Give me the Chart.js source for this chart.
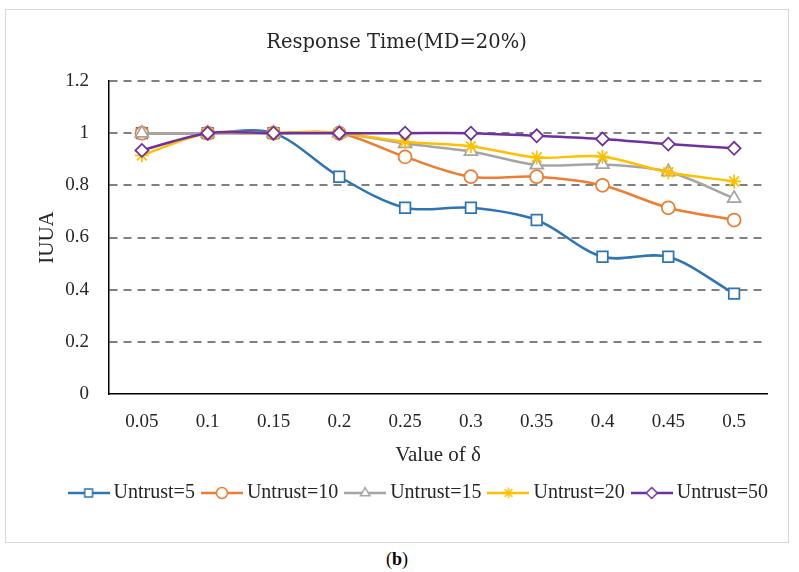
<!DOCTYPE html>
<html>
<head>
<meta charset="utf-8">
<title>Response Time(MD=20%)</title>
<script src="https://cdn.jsdelivr.net/npm/chart.js@4.4.1/dist/chart.umd.min.js"></script>
<style>
    html, body { margin: 0; padding: 0; background: #fff; }
    body { width: 799px; height: 572px; position: relative; overflow: hidden; }
    #frame { position: absolute; left: 5px; top: 9px; width: 784px; height: 534px; box-sizing: border-box; border: 1px solid #d9d9d9; }
    #frame canvas { display: block; }
    #caption { position: absolute; left: 0; top: 549px; width: 794px; text-align: center; font: 18px "Liberation Serif", serif; color: #000; }
</style>
</head>
<body>
<div id="frame"><canvas id="chart" width="782" height="532"></canvas></div>
<div id="caption">(<b>b</b>)</div>
<script>
const deltas = ["0.05", "0.1", "0.15", "0.2", "0.25", "0.3", "0.35", "0.4", "0.45", "0.5"];
const untrust5 = [1, 1, 1, 0.833, 0.714, 0.714, 0.667, 0.526, 0.526, 0.385];
const untrust10 = [1, 1, 1, 1, 0.909, 0.833, 0.833, 0.8, 0.714, 0.667];
const untrust15 = [1, 1, 1, 1, 0.96, 0.93, 0.878, 0.88, 0.852, 0.75];
const untrust20 = [0.915, 1, 1, 1, 0.967, 0.95, 0.907, 0.91, 0.85, 0.815];
const untrust50 = [0.934, 1, 1, 1, 1, 1, 0.99, 0.978, 0.958, 0.942];
const seriesNames = ["Untrust=5", "Untrust=10", "Untrust=15", "Untrust=20", "Untrust=50"];
const yTickLabels = ["0", "0.2", "0.4", "0.6", "0.8", "1", "1.2"];
const Y_STEP = 0.2;

const seriesData = [untrust5, untrust10, untrust15, untrust20, untrust50];
const colors = ["#2E75B6", "#ED7D31", "#A5A5A5", "#FFC000", "#7030A0"];
const markers = ["rect", "circle", "triangle", "star", "rectRot"];
const markerRadius = [7.5, 6.5, 7.5, 7, 6.5];

const serif = '"Liberation Serif", serif';
const textColor = "#262626";

// little line + marker picture for each legend entry, like Excel draws them
function legendIcon(color, marker) {
    const c = document.createElement("canvas");
    c.width = 42;
    c.height = 16;
    const ctx = c.getContext("2d");
    ctx.strokeStyle = color;
    ctx.lineWidth = 2.5;
    ctx.beginPath();
    ctx.moveTo(0, 8);
    ctx.lineTo(42, 8);
    ctx.stroke();
    ctx.fillStyle = "#fff";
    ctx.lineWidth = 1.5;
    Chart.helpers.drawPoint(ctx, { pointStyle: marker, radius: 5.5, rotation: 0, borderWidth: 1.5 }, 21, 8);
    return c;
}
const legendIcons = colors.map((c, i) => legendIcon(c, markers[i]));

const datasets = seriesNames.map((name, i) => ({
    label: name,
    data: seriesData[i],
    borderColor: colors[i],
    backgroundColor: "#fff",
    borderWidth: 2.5,
    tension: 0.33,
    pointStyle: markers[i],
    pointRadius: markerRadius[i],
    pointHoverRadius: markerRadius[i],
    pointBorderWidth: 1.75,
    pointBorderColor: colors[i],
    pointBackgroundColor: "#fff",
    order: seriesNames.length - i,
    yAxisID: "y"
}));

new Chart(document.getElementById("chart"), {
    type: "line",
    data: { labels: deltas, datasets },
    options: {
        responsive: false,
        animation: false,
        layout: { padding: { left: 7, right: 8, top: 0, bottom: 29 } },
        plugins: {
            title: {
                display: true,
                text: "Response Time(MD=20%)",
                color: textColor,
                font: { family: '"DejaVu Serif", serif', size: 19.5, weight: "normal" },
                padding: { top: 20.8, bottom: 26.8 }
            },
            legend: {
                position: "bottom",
                align: "end",
                labels: {
                    usePointStyle: true,
                    pointStyleWidth: 30,
                    boxHeight: 20,
                    padding: 12,
                    color: textColor,
                    font: { family: serif, size: 20 },
                    generateLabels: chart => chart.data.datasets.map((ds, i) => ({
                        text: ds.label,
                        pointStyle: legendIcons[i],
                        datasetIndex: i,
                        hidden: false,
                        lineWidth: 0,
                        fillStyle: ds.borderColor,
                        strokeStyle: ds.borderColor,
                        fontColor: textColor
                    }))
                }
            },
            tooltip: { enabled: false }
        },
        scales: {
            x: {
                type: "category",
                offset: true,
                grid: { display: false, drawTicks: false },
                border: { display: true, color: "#000", width: 1.5 },
                ticks: { color: textColor, font: { family: serif, size: 19 }, padding: 16.3, maxRotation: 0 },
                title: {
                    display: true,
                    text: "Value of δ",
                    color: textColor,
                    font: { family: serif, size: 21 },
                    padding: { top: 0, bottom: 3.4 }
                },
                afterFit: scale => { scale.height = 77; }
            },
            y: {
                min: 0,
                max: 1.2,
                ticks: {
                    stepSize: Y_STEP,
                    padding: 20,
                    color: textColor,
                    font: { family: serif, size: 19 },
                    callback: v => yTickLabels[Math.round(v / Y_STEP)]
                },
                grid: {
                    color: ctx => ctx.tick && ctx.tick.value === 0 ? "rgba(0,0,0,0)" : "#808080",
                    lineWidth: 2,
                    drawTicks: false
                },
                border: { display: true, color: "#000", width: 1.5, dash: [8, 6] },
                title: {
                    display: true,
                    text: "IUUA",
                    color: textColor,
                    font: { family: serif, size: 21 },
                    padding: { top: 21.4, bottom: 0 }
                },
                afterFit: scale => { scale.width = 96; }
            },
            // empty strip on the right so the plot stops where the reference does
            gutter: {
                type: "linear",
                position: "right",
                grid: { display: false },
                ticks: { display: false },
                border: { display: false },
                afterFit: scale => { scale.width = 13; }
            }
        }
    }
});
</script>
</body>
</html>
